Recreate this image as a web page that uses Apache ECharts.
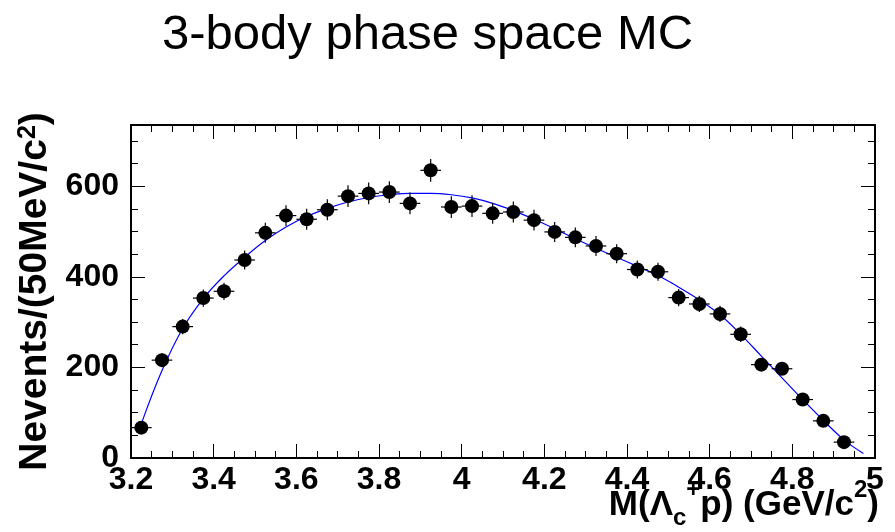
<!DOCTYPE html>
<html>
<head>
<meta charset="utf-8">
<script src="https://cdn.jsdelivr.net/npm/echarts@6/dist/echarts.min.js"></script>
<style>
html,body{margin:0;padding:0;background:#fff;}
#chart{width:895px;height:532px;}
</style>
</head>
<body>
<div id="chart"></div>
<script>
// ---- data ----
const binCenters = [3.225, 3.275, 3.325, 3.375, 3.425, 3.475, 3.525, 3.575, 3.625, 3.675,
                    3.725, 3.775, 3.825, 3.875, 3.925, 3.975, 4.025, 4.075, 4.125, 4.175,
                    4.225, 4.275, 4.325, 4.375, 4.425, 4.475, 4.525, 4.575, 4.625, 4.675,
                    4.725, 4.775, 4.825, 4.875, 4.925];
const counts = [67, 216, 290, 353, 368, 437, 497, 535, 527, 548,
                578, 584, 587, 562, 635, 554, 556, 540, 543, 525,
                499, 487, 468, 451, 416, 411, 354, 340, 318, 273,
                206, 197, 129, 82, 35];
const countErrors = [8, 15, 17, 19, 19, 21, 22, 23, 23, 23,
                     24, 24, 24, 24, 25, 24, 24, 23, 23, 23,
                     22, 22, 22, 21, 20, 20, 19, 18, 18, 17,
                     14, 14, 11, 9, 6];
const binHalfWidth = 0.025;
const fitX = [3.226, 3.275, 3.325, 3.375, 3.425, 3.475, 3.525, 3.575, 3.625, 3.675,
              3.725, 3.775, 3.825, 3.875, 3.925, 3.975, 4.025, 4.075, 4.125, 4.175,
              4.225, 4.275, 4.325, 4.375, 4.425, 4.475, 4.525, 4.575, 4.625, 4.675,
              4.725, 4.775, 4.825, 4.875, 4.925, 4.972];
const fitY = [78, 193, 286, 352, 402, 443, 480, 510, 533, 551,
              565, 575, 581, 584, 584, 581, 574, 562, 546, 527,
              506, 484, 463, 443, 423, 403, 377, 349, 316, 273,
              225, 177, 129, 83, 40, 10];
const xTicks = {min: 3.2, max: 5, interval: 0.2};
const yTicks = {min: 0, max: 735, interval: 200};

const titleText = '3-body phase space MC';
const xTitleRich = '{t|M(Λ}{sub|c}{sup|+}{t|p) (GeV/}{t|c}{sup|2}{t|)}';
const yTitleRich = '{t|Nevents/(50MeV/c}{sup|2}{t|)}';

// ---- build ----
const pts = binCenters.map((x, i) => [x, counts[i], countErrors[i]]);
const fitPts = fitX.map((x, i) => [x, fitY[i]]);

const FONT = 'Liberation Sans, Arial, Helvetica, sans-serif';
const black = '#000';

function axisCommon() {
  return {
    axisLine: {show: true, onZero: false, lineStyle: {color: black, width: 2}},
    axisTick: {show: true, inside: true, length: 14, lineStyle: {color: black, width: 1}},
    minorTick: {show: true, splitNumber: 4, length: 7, lineStyle: {color: black, width: 1}},
    splitLine: {show: false},
    minorSplitLine: {show: false}
  };
}

const chart = echarts.init(document.getElementById('chart'), null, {renderer: 'canvas'});
chart.setOption({
  backgroundColor: '#fff',
  animation: false,
  title: [
    {
      text: titleText,
      left: 157, top: 6,
      textStyle: {fontFamily: FONT, fontSize: 49, fontWeight: 'normal', color: black}
    },
    {
      text: xTitleRich,
      right: 16, top: 478, padding: 0,
      textStyle: {
        rich: {
          t: {fontFamily: FONT, fontWeight: 'bold', fontSize: 35, color: black, lineHeight: 36, verticalAlign: 'top', padding: [10, 0, 0, 0]},
          sub: {fontFamily: FONT, fontWeight: 'bold', fontSize: 24, color: black, verticalAlign: 'top', padding: [28, 0, 0, 0]},
          sup: {fontFamily: FONT, fontWeight: 'bold', fontSize: 24, color: black, verticalAlign: 'top', padding: [0, 0, 0, 0]}
        }
      }
    }
  ],
  grid: {left: 131, right: 20, top: 125, bottom: 74, containLabel: false, outerBoundsMode: 'none'},
  xAxis: [
    Object.assign(axisCommon(), {
      type: 'value', position: 'bottom',
      min: xTicks.min, max: xTicks.max, interval: xTicks.interval,
      axisLabel: {show: true, color: black, fontFamily: FONT, fontWeight: 'bold', fontSize: 32, margin: 6,
                  showMinLabel: true, showMaxLabel: true, hideOverlap: false}
    }),
    Object.assign(axisCommon(), {
      type: 'value', position: 'top',
      min: xTicks.min, max: xTicks.max, interval: xTicks.interval,
      axisLabel: {show: false}
    })
  ],
  yAxis: [
    Object.assign(axisCommon(), {
      type: 'value', position: 'left',
      min: yTicks.min, max: yTicks.max, interval: yTicks.interval,
      axisLabel: {show: true, color: black, fontFamily: FONT, fontWeight: 'bold', fontSize: 32, margin: 12,
                  showMinLabel: true, showMaxLabel: false, hideOverlap: false},
      name: yTitleRich,
      nameLocation: 'middle', nameRotate: 90, nameGap: 53,
      nameTextStyle: {
        rich: {
          t: {fontFamily: FONT, fontWeight: 'bold', fontSize: 39, color: black},
          sup: {fontFamily: FONT, fontWeight: 'bold', fontSize: 25, color: black, verticalAlign: 'top'}
        }
      }
    }),
    Object.assign(axisCommon(), {
      type: 'value', position: 'right',
      min: yTicks.min, max: yTicks.max, interval: yTicks.interval,
      axisLabel: {show: false}
    })
  ],
  series: [
    {
      type: 'line', name: 'fit', data: fitPts,
      xAxisIndex: 0, yAxisIndex: 0,
      showSymbol: false, symbol: 'none', smooth: 0.4,
      lineStyle: {color: '#0000ff', width: 1.2},
      z: 3, silent: true
    },
    {
      type: 'custom', name: 'errors', data: pts,
      xAxisIndex: 0, yAxisIndex: 0,
      renderItem: function (params, api) {
        const x = api.value(0), y = api.value(1), e = api.value(2);
        const lo = api.coord([x, y - e]);
        const hi = api.coord([x, y + e]);
        const l = api.coord([x - binHalfWidth, y]);
        const r = api.coord([x + binHalfWidth, y]);
        const style = {stroke: black, lineWidth: 1.2};
        return {
          type: 'group',
          children: [
            {type: 'line', shape: {x1: lo[0], y1: lo[1], x2: hi[0], y2: hi[1]}, style: style},
            {type: 'line', shape: {x1: l[0], y1: l[1], x2: r[0], y2: r[1]}, style: style}
          ]
        };
      },
      z: 4, silent: true
    },
    {
      type: 'scatter', name: 'data', data: pts.map(p => [p[0], p[1]]),
      xAxisIndex: 0, yAxisIndex: 0,
      symbol: 'circle', symbolSize: 14,
      itemStyle: {color: black, opacity: 1},
      z: 5, silent: true
    }
  ]
});
</script>
</body>
</html>
